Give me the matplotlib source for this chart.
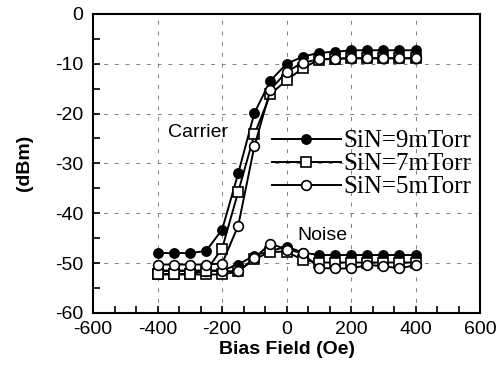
import matplotlib.pyplot as plt
import numpy as np
from matplotlib.ticker import MultipleLocator

bias = [-400, -350, -300, -250, -200, -150, -100, -50, 0, 50,
        100, 150, 200, 250, 300, 350, 400]

carrier_9 = [-48.0, -48.0, -48.0, -47.6, -43.3, -32.0, -19.9, -13.4, -10.0, -8.6,
             -7.8, -7.6, -7.3, -7.3, -7.3, -7.3, -7.3]
carrier_7 = [-52.2, -52.2, -52.2, -51.6, -47.1, -35.7, -24.2, -16.1, -13.3, -10.9,
             -9.2, -9.0, -8.9, -8.9, -8.9, -8.9, -8.9]
carrier_5 = [-50.3, -50.3, -50.3, -50.3, -50.1, -42.5, -26.6, -15.2, -11.6, -9.8,
             -9.1, -9.0, -8.9, -8.9, -8.9, -8.9, -8.9]

noise_9 = [-51.5, -51.5, -51.5, -51.5, -51.5, -50.3, -48.5, -47.6, -46.7, -47.9,
           -48.4, -48.4, -48.4, -48.4, -48.4, -48.4, -48.4]
noise_7 = [-52.3, -52.3, -52.3, -52.3, -52.3, -51.7, -49.2, -47.8, -47.7, -49.4,
           -49.9, -49.9, -49.9, -49.9, -49.9, -49.9, -49.9]
noise_5 = [-51.6, -51.6, -51.6, -51.6, -51.6, -51.7, -49.0, -46.1, -47.3, -48.0,
           -51.0, -51.1, -51.1, -50.4, -50.6, -51.1, -50.4]

labels = ['SiN=9mTorr', 'SiN=7mTorr', 'SiN=5mTorr']

plt.rcParams['font.family'] = ['Liberation Sans', 'DejaVu Sans']
plt.rcParams['axes.unicode_minus'] = False

fig = plt.figure(figsize=(4.98, 3.76), dpi=100)
ax = fig.add_axes([0.187, 0.168, 0.777, 0.795])

style_9 = dict(color='black', lw=1.4, marker='o', ms=6.8, mfc='black', mec='black')
style_7 = dict(color='black', lw=1.4, marker='s', ms=6.5, mfc='white', mec='black', mew=1.2)
style_5 = dict(color='black', lw=1.4, marker='o', ms=7, mfc='white', mec='black', mew=1.2)

ax.plot(bias, noise_9, **style_9)
ax.plot(bias, noise_7, **style_7)
ax.plot(bias, noise_5, **style_5)
h9, = ax.plot(bias, carrier_9, **style_9)
h7, = ax.plot(bias, carrier_7, **style_7)
h5, = ax.plot(bias, carrier_5, **style_5)

ax.set_xlim(-600, 600)
ax.set_ylim(-60, 0)
ax.xaxis.set_major_locator(MultipleLocator(200))
ax.xaxis.set_minor_locator(MultipleLocator(200 / 3))
ax.yaxis.set_major_locator(MultipleLocator(10))
ax.yaxis.set_minor_locator(MultipleLocator(5))
ax.tick_params(which='both', direction='in', length=5, width=1.2,
               top=False, right=False, labelsize=14)
ax.tick_params(axis='x', pad=6)
ax.tick_params(axis='y', pad=7)
for s in ax.spines.values():
    s.set_linewidth(1.5)

ax.grid(True, which='major', linestyle=(0, (4, 7)), color='0.5', linewidth=0.7)

ax.set_xlabel('Bias Field (Oe)', fontsize=14, fontweight='bold', labelpad=2)
ax.set_ylabel('(dBm)', fontsize=14, fontweight='bold', labelpad=16)

ax.text(-367, -23.9, 'Carrier', fontsize=14, va='center', ha='left')
ax.text(32, -44.4, 'Noise', fontsize=14, va='center', ha='left')

leg = ax.legend([h9, h7, h5], labels, loc='upper left',
                bbox_to_anchor=(0.462, 0.612), frameon=False,
                prop={'family': 'Liberation Serif', 'size': 18},
                handlelength=2.75, handletextpad=0.1, labelspacing=0.02,
                borderaxespad=0, borderpad=0)

fig.savefig('out.png', dpi=100)
